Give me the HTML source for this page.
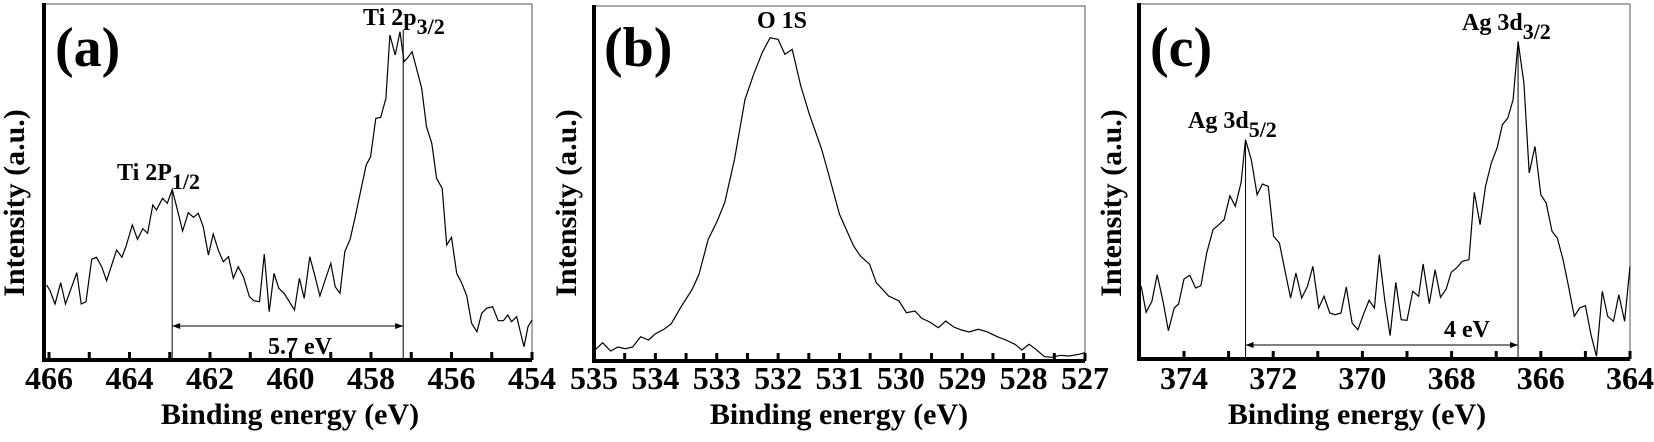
<!DOCTYPE html>
<html><head><meta charset="utf-8"><style>
html,body{margin:0;padding:0;background:#fff;}
svg{display:block;}
text{font-family:"Liberation Serif",serif;font-weight:bold;fill:#000;}
</style></head><body>
<svg id="fig" width="1654" height="442" viewBox="0 0 1654 442" xmlns="http://www.w3.org/2000/svg"></svg>
<script>
// Panel (a) Ti 2p
const aEnergy=[466.06,465.98,465.85,465.71,465.59,465.31,465.20,465.08,464.94,464.82,464.69,464.57,464.32,464.19,464.09,463.93,463.80,463.67,463.55,463.42,463.33,463.18,463.06,462.94,462.83,462.68,462.54,462.41,462.29,462.17,462.04,461.92,461.79,461.67,461.54,461.42,461.30,461.17,461.02,460.91,460.77,460.65,460.53,460.41,460.29,460.16,460.03,459.90,459.78,459.66,459.52,459.39,459.27,459.14,459.00,458.89,458.77,458.65,458.52,458.40,458.26,458.12,458.01,457.88,457.76,457.63,457.53,457.40,457.28,457.18,457.10,456.98,456.87,456.74,456.62,456.49,456.37,456.23,456.12,456.00,455.87,455.75,455.62,455.50,455.37,455.25,455.13,454.98,454.84,454.71,454.60,454.51,454.38,454.30,454.20,454.10,454.00];
const aIntensity=[22.5,21,16.8,23.2,16.8,26.2,16.8,17.5,30.2,30.8,28,23.8,33,30.8,34,40.5,36.2,39.4,38,46.5,45,48.5,47,51.2,46,38.7,44.2,42.8,44,40,31.5,37.8,32.8,29.5,31,24.5,28,25,19,17.8,17.5,31.8,14.5,26,21.5,20,17.5,15,24.5,18.5,31,25,19.2,24,29,22,20,32.5,36.2,42.5,50.5,58.5,61,72.5,72.8,78.5,97.5,91.5,98.5,89.5,90.5,92.5,87.5,81.5,70,65,54.5,51.5,34.5,36.8,26,23.2,19.2,11,8.5,14,15.5,16,11.8,11.8,13.5,11.5,13,9,4,10,12];
const aTicks=[466,464,462,460,458,456,454];
const aMinor=[465,463,461,459,457,455];
// Panel (b) O 1s
const bEnergy=[534.97,534.86,534.73,534.61,534.49,534.37,534.24,534.11,534.00,533.86,533.74,533.60,533.40,533.29,533.14,533.00,532.87,532.71,532.54,532.40,532.26,532.13,532.00,531.89,531.77,531.63,531.49,531.29,531.17,531.00,530.77,530.66,530.51,530.40,530.20,530.03,529.91,529.77,529.66,529.53,529.39,529.27,529.14,529.01,528.89,528.74,528.60,528.43,528.29,528.14,528.03,527.91,527.80,527.66,527.54,527.40,527.26,527.10,527.00];
const bIntensity=[3.5,5.5,3,4.2,3.7,4.2,7.3,6.3,8.2,9.5,11.2,15.7,21.5,26,36.5,41.7,47.5,60.5,78.5,86,92.5,97,96.5,92,93.5,82.5,74,63.5,55.5,44,34.5,31.5,29,23.5,19.5,18,14.5,15,12.8,11.7,10,12,10.2,9.3,8.7,9.5,8.8,7.3,6.3,5,3.3,5,3.5,1.3,1.1,1.7,1.5,2,2.5];
const bTicks=[535,534,533,532,531,530,529,528,527];
const bMinor=[534.5,533.5,532.5,531.5,530.5,529.5,528.5,527.5];
// Panel (c) Ag 3d
const cEnergy=[374.96,374.85,374.72,374.60,374.47,374.35,374.22,374.12,374.00,373.87,373.74,373.62,373.49,373.35,373.22,373.10,372.97,372.85,372.72,372.62,372.49,372.36,372.24,372.11,371.99,371.86,371.74,371.61,371.49,371.36,371.23,371.11,370.98,370.86,370.73,370.61,370.48,370.36,370.23,370.10,369.98,369.85,369.73,369.62,369.50,369.38,369.25,369.13,369.00,368.87,368.74,368.64,368.50,368.37,368.25,368.12,368.01,367.89,367.76,367.61,367.49,367.36,367.24,367.11,366.98,366.86,366.74,366.62,366.51,366.38,366.26,366.13,366.00,365.88,365.75,365.63,365.50,365.38,365.25,365.13,365.00,364.87,364.75,364.62,364.50,364.37,364.25,364.12,364.00];
const cIntensity=[21.8,14,17.3,25.3,17.3,8.5,15.3,16.5,24,25.1,21.3,22,31.8,38.8,40.3,41.8,49,45.8,53,65.8,59.8,49.3,52.5,51.8,36.8,34.8,26.8,18.3,25.8,18.3,21.8,27.8,15.3,18.8,13.8,13.3,13.8,21.6,10.8,8.8,13.3,17.6,15.3,31.3,17.8,7,23,11.8,11.6,20.3,18.8,28.5,16.6,26.8,18.5,21,26,27.3,29.3,29.8,50,40.3,51.8,58.8,63.3,70.3,72.3,77.8,95.3,82.8,55.8,63.8,49.3,46.8,38.3,36.3,29.8,21.8,12.8,15.3,16,7,0.8,20.3,12.8,11.3,19.3,11.3,27.8];
const cTicks=[374,372,370,368,366,364];
const cMinor=[373,371,369,367,365];

const NS="http://www.w3.org/2000/svg";
const svg=document.getElementById('fig');
function mk(tag,attrs,parent){const e=document.createElementNS(NS,tag);for(const k in attrs)e.setAttribute(k,attrs[k]);(parent||svg).appendChild(e);return e;}
function txt(parent,x,y,s,size,anchor,extra){const t=mk('text',Object.assign({x:x,y:y,'font-size':size,'text-anchor':anchor||'middle'},extra||{}),parent);t.textContent=s;return t;}

function panel(id,geo,E,I,ticks,minor,peaks){
  const g=mk('g',{});
  
  
  const xs=e=>geo.x0+(geo.e0-e)/(geo.e0-geo.e1)*(geo.x1-geo.x0);
  const ys=v=>geo.yb-v*3.333;
  const fr=mk('path',{d:`M${geo.L},${geo.T}H${geo.R}V${geo.yb}`,fill:'none',stroke:'#555','stroke-width':1},g);
  
  
  const ax=mk('path',{d:`M${geo.L},${geo.T-1}V${geo.yb}H${geo.R}`,fill:'none',stroke:'#000','stroke-width':4},g);
  
  
  ticks.concat(minor).forEach(t=>{
    const tk=mk('line',{x1:xs(t),x2:xs(t),y1:geo.yb,y2:geo.yb-8,stroke:'#000','stroke-width':3},g);
    
    
  });
  ticks.forEach(t=>{
    const l=txt(g,xs(t),389,String(t),32);
    
    
  });
  const xt=txt(g,geo.xtc,424,'Binding energy (eV)',30);
  
  
  const yt=txt(g,0,0,'Intensity (a.u.)',30,'middle',{transform:`translate(${geo.ytx},203) rotate(-90)`});
  
  
  const pl=txt(g,geo.plx,66,'('+id+')',56,'start');
  
  
  let d='';
  E.forEach((e,i)=>{d+=(i?'L':'M')+xs(e).toFixed(1)+','+ys(I[i]).toFixed(1);});
  const line=mk('path',{d:d,fill:'none',stroke:'#000','stroke-width':1.2},g);
  
  
  (peaks||[]).forEach(p=>{
    const vl=mk('line',{x1:xs(p.e),x2:xs(p.e),y1:ys(p.v),y2:geo.yb,stroke:'#000','stroke-width':1},g);
    
    
  });
  return {g,xs,ys};
}
function arrow(g,x1,x2,y,name){
  const a=mk('g',{},g);
  
  
  mk('line',{x1:x1,x2:x2,y1:y,y2:y,stroke:'#000','stroke-width':1},a);
  mk('path',{d:`M${x1},${y}l8,-3v6z M${x2},${y}l-8,-3v6z`,fill:'#000'},a);
}
function sublabel(g,x,y,main,sub,name){
  const t=mk('text',{x:x,y:y,'font-size':24,'text-anchor':'start'},g);
  
  
  t.appendChild(document.createTextNode(main));
  const s=mk('tspan',{dy:9,'font-size':22},t);s.textContent=sub;
}

const pa=panel('a',{L:44,R:532,T:4,yb:360,x0:49,x1:532,e0:466,e1:454,xtc:290,ytx:24,plx:55},aEnergy,aIntensity,aTicks,aMinor,[{e:462.94,v:51.2},{e:457.2,v:99}]);
arrow(pa.g,pa.xs(462.94),pa.xs(457.2),326,'splitting-arrow-a');
const ta=txt(pa.g,300,354,'5.7 eV',24);
sublabel(pa.g,117,180,'Ti 2P','1/2','peak-label-ti-2p12');
sublabel(pa.g,363,25,'Ti 2p','3/2','peak-label-ti-2p32');

const pb=panel('b',{L:594,R:1085,T:6,yb:361,x0:594,x1:1085,e0:535,e1:527,xtc:839,ytx:576,plx:604},bEnergy,bIntensity,bTicks,bMinor,[]);
const ob=txt(pb.g,782,28,'O 1S',24);

const pc=panel('c',{L:1139,R:1630,T:4,yb:359,x0:1139.4,x1:1630,e0:375,e1:364,xtc:1357,ytx:1121,plx:1150},cEnergy,cIntensity,cTicks,cMinor,[{e:372.62,v:65.8},{e:366.51,v:95.3}]);
arrow(pc.g,pc.xs(372.62),pc.xs(366.51),345,'splitting-arrow-c');
const tc=txt(pc.g,1467,337,'4 eV',24);
sublabel(pc.g,1188,128,'Ag 3d','5/2','peak-label-ag-3d52');
sublabel(pc.g,1462,30,'Ag 3d','3/2','peak-label-ag-3d32');
</script>
</body></html>
